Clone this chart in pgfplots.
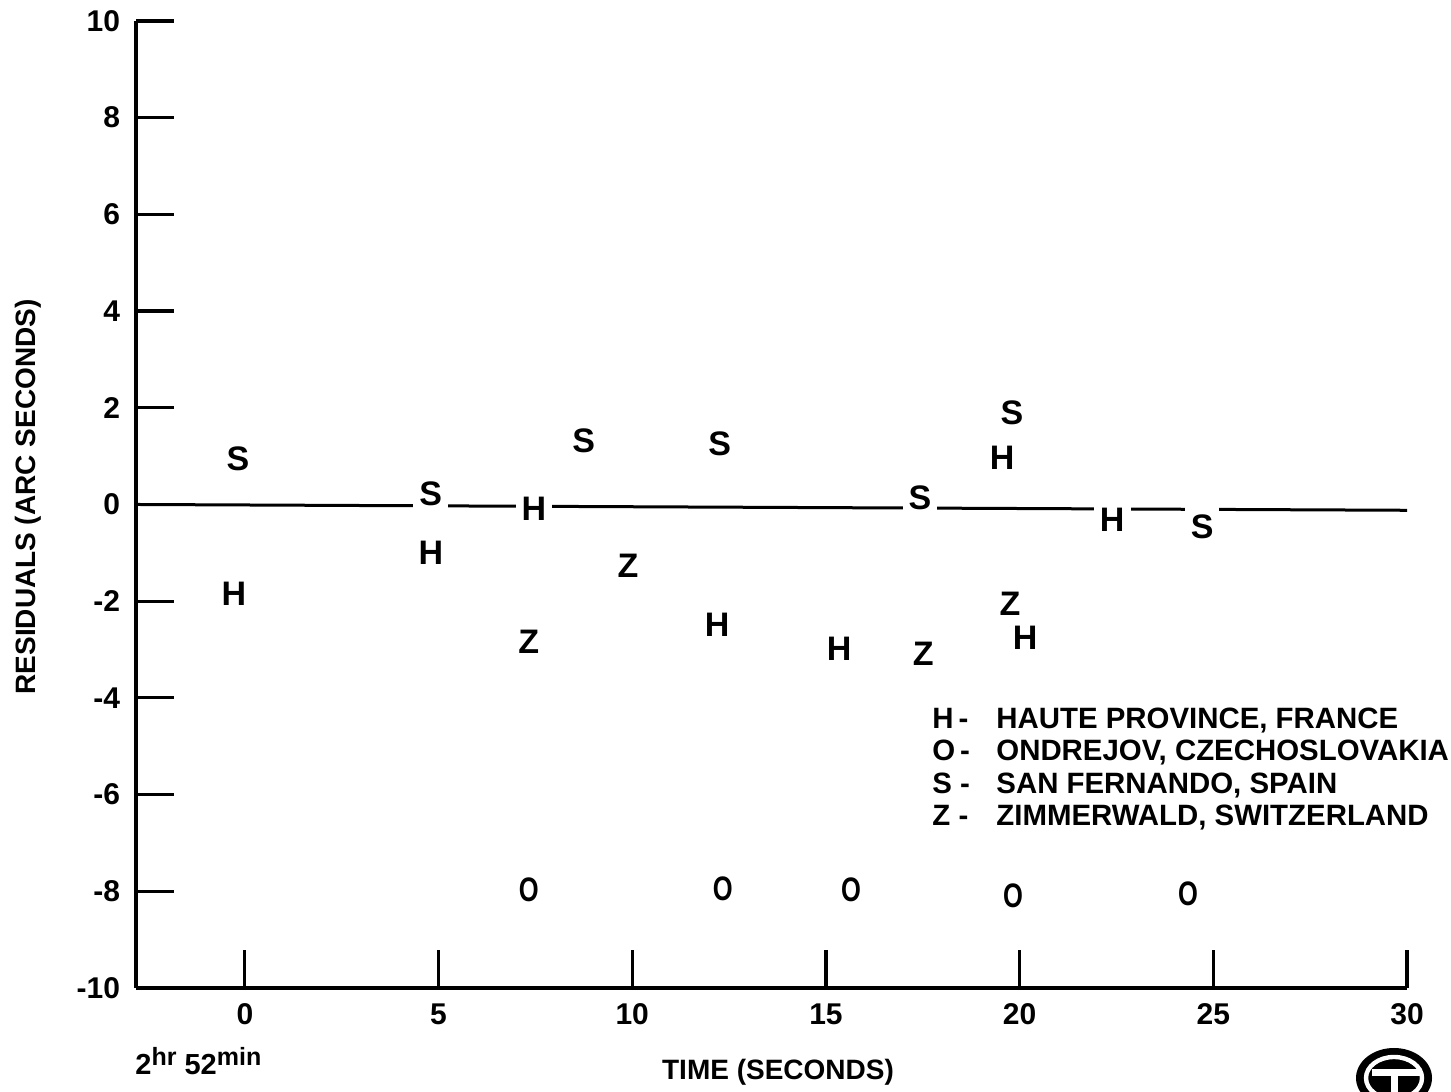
\documentclass[border=0pt]{standalone}
\usepackage{pgfplots}
\pgfplotsset{compat=1.18}
\usepackage{fontspec}
\setmainfont{Liberation Sans}
\newcommand{\fs}[1]{\fontsize{#1bp}{#1bp}\selectfont\bfseries}
\pgfplotsset{
  lett/.style={only marks, mark=text, text mark={#1}, text mark as node=true,
    text mark style={font=\fs{17}, fill=white, inner xsep=3bp, inner ysep=4bp, text=black, anchor=center}},
}
\begin{document}
\begin{tikzpicture}[x=1bp,y=1bp]
\useasboundingbox (0,0) rectangle (725.5,546);
\begin{axis}[
  at={(68bp,52bp)}, anchor=south west,
  scale only axis, width=635.5bp, height=483.5bp,
  xmin=-2.81, xmax=30, ymin=-10, ymax=10,
  axis x line=bottom, axis y line=left,
  axis line style={-, line width=2bp, black},
  tick align=inside,
  major tick length=19bp,
  tick style={line width=1.6bp, black},
  xtick={0,5,...,30}, ytick={-10,-8,...,10},
  yticklabels={-10,-8,-6,-4,-2,0,2,4,6,8,10},
  xticklabels={0,5,10,15,20,25,30},
  ticklabel style={font=\fs{15}},
  yticklabel style={xshift=-4.5bp},
  xticklabel style={yshift=-4bp, text height=10.5bp, text depth=0bp},
  clip=false,
]
\addplot[line width=1.5bp, black, mark=none] coordinates {(-2.81,0) (30,-0.12)};
% S: San Fernando
\addplot[lett=S] coordinates {
(-0.18,0.95) (4.80,0.23) (8.75,1.32) (12.26,1.26) (17.43,0.14) (19.80,1.90) (24.71,-0.46)};
% H: Haute Province
\addplot[lett=H] coordinates {
(-0.28,-1.84) (4.80,-0.99) (7.46,-0.08) (12.19,-2.48) (15.34,-2.98) (19.55,0.97) (20.14,-2.75) (22.39,-0.31)};
% Z: Zimmerwald
\addplot[lett=Z] coordinates {
(7.33,-2.85) (9.89,-1.26) (17.51,-3.08) (19.75,-2.05)};
% O: Ondrejov
\addplot[lett={\scalebox{0.75}[1]{O}}] coordinates {
(7.33,-7.96) (12.34,-7.94) (15.65,-7.96) (19.83,-8.09) (24.35,-8.05)};
\end{axis}
% axis titles
\node[rotate=90, font=\fs{14}, inner sep=0] at (14,297.5) {RESIDUALS (ARC SECONDS)};
\node[font=\fs{14}, inner sep=0] at (389,10) {TIME (SECONDS)};
\node[anchor=base west, font=\fs{14.5}, inner sep=0] at (67.5,8.5)
  {2\raisebox{4.5bp}{\fs{12.5}hr} 52\raisebox{4.5bp}{\fs{12.5}min}};
% legend
\foreach \k/\t/\yy in {H\,-/HAUTE PROVINCE{,} FRANCE/181.5, O\,-/ONDREJOV{,} CZECHOSLOVAKIA/165.5, S\;-/SAN FERNANDO{,} SPAIN/149, Z\;-/ZIMMERWALD{,} SWITZERLAND/133}{
  \node[anchor=base west, font=\fs{14.7}, inner sep=0] at (466,\yy) {\k};
  \node[anchor=base west, font=\fs{14.7}, inner sep=0] at (498,\yy) {\t};
}
% logo
\fill[black] (697,7) ellipse [x radius=19, y radius=15];
\draw[white, line width=2.2] (697,7) ellipse [x radius=14, y radius=10.5];
\fill[black] (697,7) ellipse [x radius=12.5, y radius=9];
\fill[white] (686,8) rectangle (710,11.5);
\fill[white] (695.5,-2) rectangle (699,9);
\end{tikzpicture}
\end{document}
